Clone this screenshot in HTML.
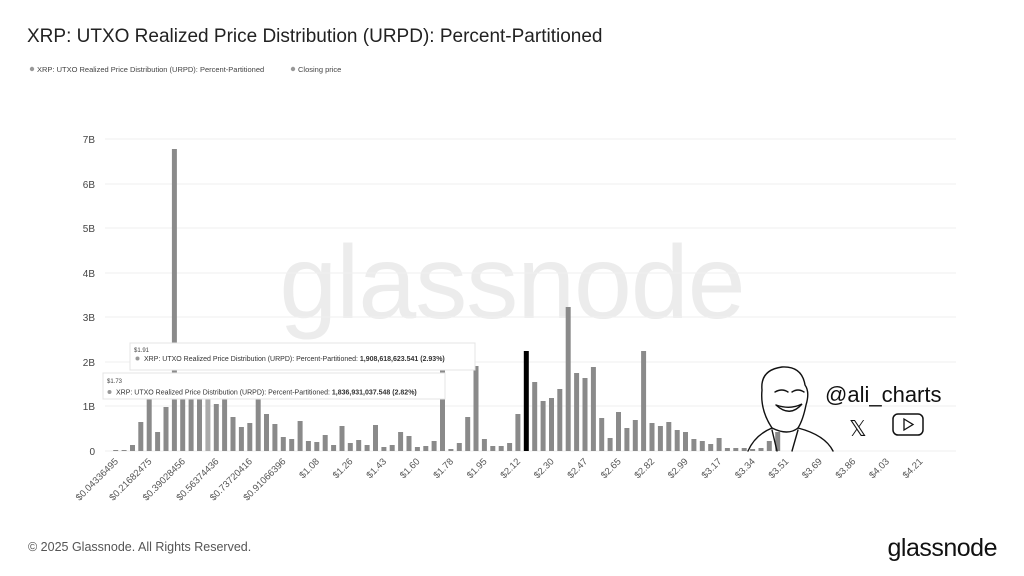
<!DOCTYPE html>
<html><head><meta charset="utf-8"><style>
html,body{margin:0;padding:0;background:#fff;}
svg{display:block;font-family:"Liberation Sans",sans-serif;}
</style></head><body>
<svg width="1024" height="576" viewBox="0 0 1024 576" xmlns="http://www.w3.org/2000/svg">
<rect width="1024" height="576" fill="#fff"/>
<text x="27" y="42" font-size="19" fill="#222">XRP: UTXO Realized Price Distribution (URPD): Percent-Partitioned</text>
<circle cx="32" cy="69" r="2.2" fill="#999"/>
<text x="37" y="72" font-size="7.5" fill="#444">XRP: UTXO Realized Price Distribution (URPD): Percent-Partitioned</text>
<circle cx="293" cy="69" r="2.2" fill="#999"/>
<text x="298" y="72" font-size="7.5" fill="#444">Closing price</text>
<text x="512" y="318" font-size="104" fill="#ececec" text-anchor="middle" letter-spacing="-1">glassnode</text>
<g stroke="#efefef" stroke-width="1">
<line x1="105" y1="139" x2="956" y2="139"/><line x1="105" y1="184" x2="956" y2="184"/>
<line x1="105" y1="228" x2="956" y2="228"/><line x1="105" y1="273" x2="956" y2="273"/>
<line x1="105" y1="317" x2="956" y2="317"/><line x1="105" y1="362" x2="956" y2="362"/>
<line x1="105" y1="406" x2="956" y2="406"/><line x1="105" y1="451" x2="956" y2="451"/>
</g>
<g font-size="10" fill="#444" text-anchor="end">
<text x="95" y="143">7B</text><text x="95" y="188">6B</text><text x="95" y="232">5B</text>
<text x="95" y="277">4B</text><text x="95" y="321">3B</text><text x="95" y="366">2B</text>
<text x="95" y="410">1B</text><text x="95" y="455">0</text>
</g>
<g fill="#8a8a8a">
<rect x="113.2" y="450" width="5" height="1"/>
<rect x="121.6" y="450" width="5" height="1"/>
<rect x="130.0" y="445" width="5" height="6"/>
<rect x="138.3" y="422" width="5" height="29"/>
<rect x="146.7" y="390" width="5" height="61"/>
<rect x="155.1" y="432" width="5" height="19"/>
<rect x="163.5" y="407" width="5" height="44"/>
<rect x="171.9" y="149" width="5" height="302"/>
<rect x="180.2" y="390" width="5" height="61"/>
<rect x="188.6" y="390" width="5" height="61"/>
<rect x="197.0" y="390" width="5" height="61"/>
<rect x="205.4" y="390" width="5" height="61" fill="#aaa"/>
<rect x="213.8" y="404" width="5" height="47"/>
<rect x="222.1" y="390" width="5" height="61"/>
<rect x="230.5" y="417" width="5" height="34"/>
<rect x="238.9" y="427" width="5" height="24"/>
<rect x="247.3" y="423" width="5" height="28"/>
<rect x="255.7" y="390" width="5" height="61"/>
<rect x="264.0" y="414" width="5" height="37"/>
<rect x="272.4" y="424" width="5" height="27"/>
<rect x="280.8" y="437" width="5" height="14"/>
<rect x="289.2" y="439" width="5" height="12"/>
<rect x="297.6" y="421" width="5" height="30"/>
<rect x="305.9" y="441" width="5" height="10"/>
<rect x="314.3" y="442" width="5" height="9"/>
<rect x="322.7" y="435" width="5" height="16"/>
<rect x="331.1" y="445" width="5" height="6"/>
<rect x="339.5" y="426" width="5" height="25"/>
<rect x="347.8" y="443" width="5" height="8"/>
<rect x="356.2" y="440" width="5" height="11"/>
<rect x="364.6" y="445" width="5" height="6"/>
<rect x="373.0" y="425" width="5" height="26"/>
<rect x="381.4" y="447" width="5" height="4"/>
<rect x="389.7" y="445" width="5" height="6"/>
<rect x="398.1" y="432" width="5" height="19"/>
<rect x="406.5" y="436" width="5" height="15"/>
<rect x="414.9" y="447" width="5" height="4"/>
<rect x="423.3" y="446" width="5" height="5"/>
<rect x="431.6" y="441" width="5" height="10"/>
<rect x="440.0" y="369" width="5" height="82"/>
<rect x="448.4" y="449" width="5" height="2"/>
<rect x="456.8" y="443" width="5" height="8"/>
<rect x="465.2" y="417" width="5" height="34"/>
<rect x="473.5" y="366" width="5" height="85"/>
<rect x="481.9" y="439" width="5" height="12"/>
<rect x="490.3" y="446" width="5" height="5"/>
<rect x="498.7" y="446" width="5" height="5"/>
<rect x="507.1" y="443" width="5" height="8"/>
<rect x="515.4" y="414" width="5" height="37"/>
<rect x="523.8" y="351" width="5" height="100" fill="#000"/>
<rect x="532.2" y="382" width="5" height="69"/>
<rect x="540.6" y="401" width="5" height="50"/>
<rect x="549.0" y="398" width="5" height="53"/>
<rect x="557.3" y="389" width="5" height="62"/>
<rect x="565.7" y="307" width="5" height="144"/>
<rect x="574.1" y="373" width="5" height="78"/>
<rect x="582.5" y="378" width="5" height="73"/>
<rect x="590.9" y="367" width="5" height="84"/>
<rect x="599.2" y="418" width="5" height="33"/>
<rect x="607.6" y="438" width="5" height="13"/>
<rect x="616.0" y="412" width="5" height="39"/>
<rect x="624.4" y="428" width="5" height="23"/>
<rect x="632.8" y="420" width="5" height="31"/>
<rect x="641.1" y="351" width="5" height="100"/>
<rect x="649.5" y="423" width="5" height="28"/>
<rect x="657.9" y="426" width="5" height="25"/>
<rect x="666.3" y="422" width="5" height="29"/>
<rect x="674.7" y="430" width="5" height="21"/>
<rect x="683.0" y="432" width="5" height="19"/>
<rect x="691.4" y="439" width="5" height="12"/>
<rect x="699.8" y="441" width="5" height="10"/>
<rect x="708.2" y="444" width="5" height="7"/>
<rect x="716.6" y="438" width="5" height="13"/>
<rect x="724.9" y="448" width="5" height="3"/>
<rect x="733.3" y="448" width="5" height="3"/>
<rect x="741.7" y="448" width="5" height="3"/>
<rect x="750.1" y="449" width="5" height="2"/>
<rect x="758.5" y="448" width="5" height="3"/>
<rect x="766.8" y="441" width="5" height="10"/>
<rect x="775.2" y="432" width="5" height="19"/>
</g>
<g font-size="9.5" fill="#555" text-anchor="end">
<text transform="translate(118.7,462) rotate(-45)">$0.04336495</text>
<text transform="translate(152.2,462) rotate(-45)">$0.21682475</text>
<text transform="translate(185.7,462) rotate(-45)">$0.39028456</text>
<text transform="translate(219.3,462) rotate(-45)">$0.56374436</text>
<text transform="translate(252.8,462) rotate(-45)">$0.73720416</text>
<text transform="translate(286.3,462) rotate(-45)">$0.91066396</text>
<text transform="translate(319.8,462) rotate(-45)">$1.08</text>
<text transform="translate(353.3,462) rotate(-45)">$1.26</text>
<text transform="translate(386.9,462) rotate(-45)">$1.43</text>
<text transform="translate(420.4,462) rotate(-45)">$1.60</text>
<text transform="translate(453.9,462) rotate(-45)">$1.78</text>
<text transform="translate(487.4,462) rotate(-45)">$1.95</text>
<text transform="translate(520.9,462) rotate(-45)">$2.12</text>
<text transform="translate(554.5,462) rotate(-45)">$2.30</text>
<text transform="translate(588.0,462) rotate(-45)">$2.47</text>
<text transform="translate(621.5,462) rotate(-45)">$2.65</text>
<text transform="translate(655.0,462) rotate(-45)">$2.82</text>
<text transform="translate(688.5,462) rotate(-45)">$2.99</text>
<text transform="translate(722.1,462) rotate(-45)">$3.17</text>
<text transform="translate(755.6,462) rotate(-45)">$3.34</text>
<text transform="translate(789.1,462) rotate(-45)">$3.51</text>
<text transform="translate(822.6,462) rotate(-45)">$3.69</text>
<text transform="translate(856.1,462) rotate(-45)">$3.86</text>
<text transform="translate(889.7,462) rotate(-45)">$4.03</text>
<text transform="translate(923.2,462) rotate(-45)">$4.21</text>
</g>
<g>
<rect x="130" y="343" width="345" height="27" fill="#fff" stroke="#e4e4e4"/>
<text x="134" y="352" font-size="6" fill="#444">$1.91</text>
<circle cx="137.5" cy="358.5" r="2" fill="#999"/>
<text x="144" y="361" font-size="7" fill="#333">XRP: UTXO Realized Price Distribution (URPD): Percent-Partitioned: <tspan font-weight="bold">1,908,618,623.541 (2.93%)</tspan></text>
<rect x="103" y="373" width="342" height="26" fill="#fff" stroke="#e4e4e4"/>
<text x="107" y="383" font-size="6" fill="#444">$1.73</text>
<circle cx="109.5" cy="392" r="2" fill="#999"/>
<text x="116" y="394.5" font-size="7" fill="#333">XRP: UTXO Realized Price Distribution (URPD): Percent-Partitioned: <tspan font-weight="bold">1,836,931,037.548 (2.82%)</tspan></text>
</g>
<g fill="none" stroke="#111" stroke-width="1.4" stroke-linecap="round">
<path d="M748 451 Q755 435 772 428 M798 428 Q825 435 833 451"/>
<path d="M772 428 Q760 410 762 390 Q760 370 782 367 Q802 366 805 385 Q810 392 806 405 Q803 420 798 428 Q788 436 772 428"/>
<path d="M775 392 Q782 388 788 392 M792 392 Q798 388 804 392 M776 405 Q790 418 802 404 Q790 410 776 405"/>
<path d="M772 430 L777 451 M798 430 L792 451"/>
</g>
<text x="825" y="402" font-size="22" fill="#111">@ali_charts</text>
<text x="849" y="436" font-size="22" fill="#111">𝕏</text>
<rect x="893" y="414" width="30" height="21" rx="5" fill="none" stroke="#111" stroke-width="1.5"/>
<path d="M904 419 L913 424.5 L904 430 Z" fill="none" stroke="#111" stroke-width="1.3"/>
<text x="28" y="551" font-size="12.5" fill="#555">© 2025 Glassnode. All Rights Reserved.</text>
<text x="997" y="556" font-size="25" fill="#111" text-anchor="end" letter-spacing="-0.5">glassnode</text>
</svg>
</body></html>
